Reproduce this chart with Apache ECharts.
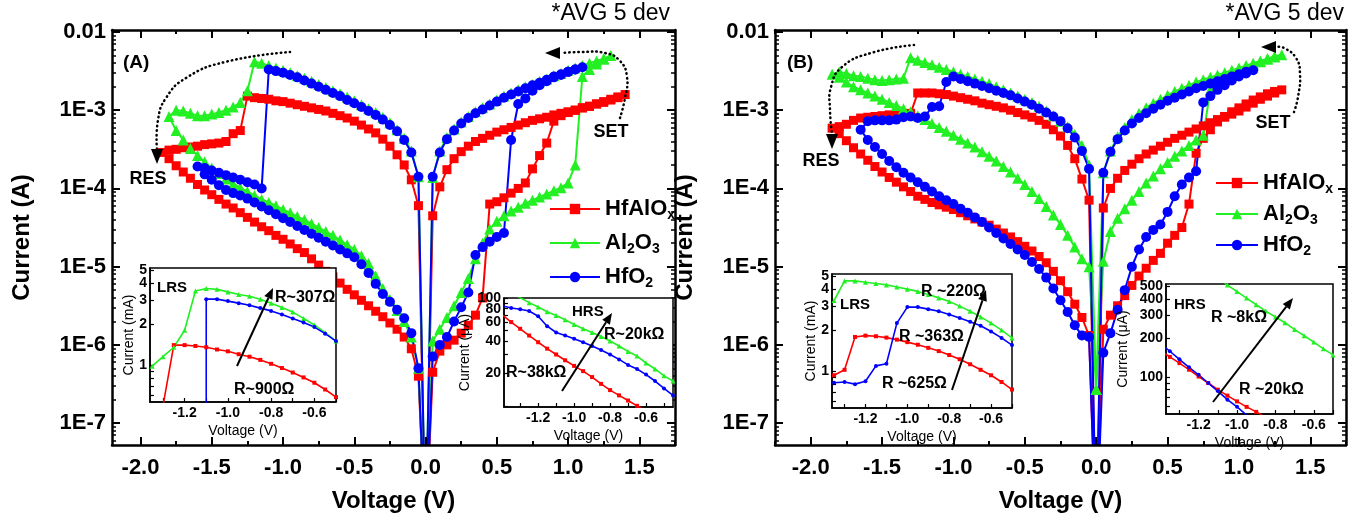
<!DOCTYPE html>
<html><head><meta charset="utf-8">
<script src="https://cdn.jsdelivr.net/npm/echarts@6/dist/echarts.min.js"></script>
<style>html,body{margin:0;padding:0;background:#fff}#c{width:1357px;height:520px}</style>
</head><body><div id="c"></div>
<script>
// ---------- DATA (voltage V, log10 of current in A) ----------
const A_HfAlOx = [[0,-8.5],[-0.05,-4.22],[-0.1,-3.89],[-0.15,-3.70],[-0.2,-3.57],[-0.25,-3.46],[-0.3,-3.37],[-0.35,-3.29],[-0.4,-3.24],[-0.45,-3.19],[-0.5,-3.14],[-0.55,-3.10],[-0.6,-3.07],[-0.65,-3.04],[-0.7,-3.01],[-0.75,-2.99],[-0.8,-2.97],[-0.85,-2.95],[-0.9,-2.93],[-0.95,-2.91],[-1.0,-2.89],[-1.05,-2.88],[-1.1,-2.86],[-1.15,-2.85],[-1.2,-2.84],[-1.25,-2.82],[-1.3,-3.26],[-1.35,-3.30],[-1.4,-3.40],[-1.45,-3.42],[-1.5,-3.43],[-1.55,-3.44],[-1.6,-3.46],[-1.65,-3.47],[-1.7,-3.48],[-1.75,-3.50],[-1.8,-3.51],[-1.85,-3.54],
[-1.8,-3.62],[-1.75,-3.71],[-1.7,-3.79],[-1.65,-3.87],[-1.6,-3.95],[-1.55,-4.02],[-1.5,-4.08],[-1.45,-4.14],[-1.4,-4.20],[-1.35,-4.25],[-1.3,-4.31],[-1.25,-4.37],[-1.2,-4.43],[-1.15,-4.49],[-1.1,-4.54],[-1.05,-4.60],[-1.0,-4.65],[-0.95,-4.71],[-0.9,-4.77],[-0.85,-4.82],[-0.8,-4.90],[-0.75,-4.98],[-0.7,-5.06],[-0.65,-5.13],[-0.6,-5.21],[-0.55,-5.29],[-0.5,-5.36],[-0.45,-5.43],[-0.4,-5.50],[-0.35,-5.57],[-0.3,-5.64],[-0.25,-5.72],[-0.2,-5.80],[-0.15,-5.90],[-0.1,-6.05],[-0.05,-6.40],[0,-8.5],
[0.05,-6.35],[0.1,-6.08],[0.15,-6.00],[0.2,-5.94],[0.25,-5.85],[0.3,-5.75],[0.35,-5.62],[0.4,-5.40],[0.45,-4.20],[0.5,-4.17],[0.55,-4.12],[0.6,-4.06],[0.65,-4.00],[0.7,-3.93],[0.75,-3.75],[0.8,-3.58],[0.85,-3.42],[0.9,-3.14],[0.95,-3.07],[1.0,-3.03],[1.05,-3.00],[1.1,-2.97],[1.15,-2.95],[1.2,-2.92],[1.25,-2.89],[1.3,-2.86],[1.35,-2.83],[1.4,-2.80],
[1.35,-2.84],[1.3,-2.87],[1.25,-2.90],[1.2,-2.92],[1.15,-2.95],[1.1,-2.97],[1.05,-3.00],[1.0,-3.02],[0.95,-3.04],[0.9,-3.06],[0.85,-3.09],[0.8,-3.11],[0.75,-3.13],[0.7,-3.16],[0.65,-3.19],[0.6,-3.22],[0.55,-3.25],[0.5,-3.28],[0.45,-3.32],[0.4,-3.36],[0.35,-3.40],[0.3,-3.46],[0.25,-3.53],[0.2,-3.62],[0.15,-3.76],[0.1,-3.98],[0.05,-4.35],[0,-8.5]];

const A_Al2O3 = [[0,-8.5],[-0.05,-3.85],[-0.1,-3.52],[-0.15,-3.36],[-0.2,-3.25],[-0.25,-3.16],[-0.3,-3.09],[-0.35,-3.03],[-0.4,-2.98],[-0.45,-2.93],[-0.5,-2.88],[-0.55,-2.83],[-0.6,-2.79],[-0.65,-2.75],[-0.7,-2.71],[-0.75,-2.67],[-0.8,-2.63],[-0.85,-2.59],[-0.9,-2.56],[-0.95,-2.52],[-1.0,-2.49],[-1.05,-2.46],[-1.1,-2.43],[-1.15,-2.40],[-1.2,-2.38],[-1.25,-2.75],[-1.3,-2.90],[-1.35,-2.96],[-1.4,-3.00],[-1.45,-3.03],[-1.5,-3.05],[-1.55,-3.07],[-1.6,-3.07],[-1.65,-3.04],[-1.7,-3.01],[-1.75,-3.00],[-1.8,-3.08],
[-1.75,-3.26],[-1.7,-3.38],[-1.65,-3.49],[-1.6,-3.58],[-1.55,-3.66],[-1.5,-3.74],[-1.45,-3.81],[-1.4,-3.88],[-1.35,-3.94],[-1.3,-3.99],[-1.25,-4.04],[-1.2,-4.09],[-1.15,-4.14],[-1.1,-4.18],[-1.05,-4.22],[-1.0,-4.27],[-0.95,-4.31],[-0.9,-4.36],[-0.85,-4.40],[-0.8,-4.45],[-0.75,-4.50],[-0.7,-4.55],[-0.65,-4.60],[-0.6,-4.66],[-0.55,-4.72],[-0.5,-4.78],[-0.45,-4.86],[-0.4,-4.96],[-0.35,-5.12],[-0.3,-5.28],[-0.25,-5.42],[-0.2,-5.56],[-0.15,-5.70],[-0.1,-5.90],[-0.05,-6.30],[0,-8.5],
[0.05,-5.95],[0.1,-5.80],[0.15,-5.65],[0.2,-5.50],[0.25,-5.33],[0.3,-5.15],[0.35,-4.90],[0.4,-4.70],[0.45,-4.52],[0.5,-4.42],[0.55,-4.35],[0.6,-4.29],[0.65,-4.24],[0.7,-4.19],[0.75,-4.15],[0.8,-4.11],[0.85,-4.07],[0.9,-4.03],[0.95,-3.99],[1.0,-3.93],[1.05,-3.70],[1.1,-2.57],[1.15,-2.48],[1.2,-2.41],[1.25,-2.35],[1.3,-2.30],
[1.25,-2.34],[1.2,-2.37],[1.15,-2.40],[1.1,-2.43],[1.05,-2.46],[1.0,-2.49],[0.95,-2.53],[0.9,-2.56],[0.85,-2.60],[0.8,-2.63],[0.75,-2.67],[0.7,-2.70],[0.65,-2.74],[0.6,-2.78],[0.55,-2.82],[0.5,-2.87],[0.45,-2.92],[0.4,-2.97],[0.35,-3.02],[0.3,-3.08],[0.25,-3.15],[0.2,-3.24],[0.15,-3.35],[0.1,-3.52],[0.05,-3.86],[0,-8.5]];

const A_HfO2 = [[0,-8.5],[-0.05,-3.85],[-0.1,-3.54],[-0.15,-3.38],[-0.2,-3.27],[-0.25,-3.19],[-0.3,-3.12],[-0.35,-3.06],[-0.4,-3.01],[-0.45,-2.96],[-0.5,-2.91],[-0.55,-2.87],[-0.6,-2.82],[-0.65,-2.78],[-0.7,-2.74],[-0.75,-2.70],[-0.8,-2.66],[-0.85,-2.62],[-0.9,-2.58],[-0.95,-2.55],[-1.0,-2.52],[-1.05,-2.50],[-1.1,-2.48],[-1.15,-4.00],[-1.2,-3.95],[-1.25,-3.92],[-1.3,-3.89],[-1.35,-3.86],[-1.4,-3.83],[-1.45,-3.80],[-1.5,-3.77],[-1.55,-3.74],[-1.6,-3.72],
[-1.55,-3.82],[-1.5,-3.89],[-1.45,-3.96],[-1.4,-4.02],[-1.35,-4.06],[-1.3,-4.09],[-1.25,-4.13],[-1.2,-4.18],[-1.15,-4.23],[-1.1,-4.28],[-1.05,-4.33],[-1.0,-4.38],[-0.95,-4.43],[-0.9,-4.48],[-0.85,-4.53],[-0.8,-4.58],[-0.75,-4.63],[-0.7,-4.68],[-0.65,-4.73],[-0.6,-4.78],[-0.55,-4.83],[-0.5,-4.88],[-0.45,-4.97],[-0.4,-5.08],[-0.35,-5.22],[-0.3,-5.35],[-0.25,-5.45],[-0.2,-5.55],[-0.15,-5.66],[-0.1,-5.85],[-0.05,-6.30],[0,-8.5],
[0.05,-6.15],[0.1,-6.00],[0.15,-5.90],[0.2,-5.70],[0.25,-5.52],[0.3,-5.33],[0.35,-4.85],[0.4,-4.75],[0.45,-4.68],[0.5,-4.62],[0.55,-4.57],[0.6,-3.38],[0.65,-2.92],[0.7,-2.85],[0.75,-2.75],[0.8,-2.68],[0.85,-2.63],[0.9,-2.58],[0.95,-2.55],[1.0,-2.51],[1.05,-2.48],[1.1,-2.45],
[1.05,-2.48],[1.0,-2.51],[0.95,-2.54],[0.9,-2.57],[0.85,-2.61],[0.8,-2.65],[0.75,-2.68],[0.7,-2.72],[0.65,-2.76],[0.6,-2.80],[0.55,-2.84],[0.5,-2.89],[0.45,-2.94],[0.4,-2.99],[0.35,-3.04],[0.3,-3.10],[0.25,-3.17],[0.2,-3.26],[0.15,-3.37],[0.1,-3.54],[0.05,-3.85],[0,-8.5]];

const B_HfAlOx = [[0,-8.5],[-0.05,-4.15],[-0.1,-3.88],[-0.15,-3.62],[-0.2,-3.45],[-0.25,-3.33],[-0.3,-3.25],[-0.35,-3.18],[-0.4,-3.13],[-0.45,-3.09],[-0.5,-3.06],[-0.55,-3.03],[-0.6,-3.00],[-0.65,-2.97],[-0.7,-2.95],[-0.75,-2.93],[-0.8,-2.91],[-0.85,-2.88],[-0.9,-2.86],[-0.95,-2.84],[-1.0,-2.82],[-1.05,-2.80],[-1.1,-2.79],[-1.15,-2.78],[-1.2,-2.78],[-1.25,-2.78],[-1.3,-3.04],[-1.35,-3.05],[-1.4,-3.06],[-1.45,-3.06],[-1.5,-3.07],[-1.55,-3.08],[-1.6,-3.09],[-1.65,-3.10],[-1.7,-3.13],[-1.75,-3.18],[-1.8,-3.21],[-1.85,-3.23],
[-1.8,-3.30],[-1.75,-3.39],[-1.7,-3.48],[-1.65,-3.56],[-1.6,-3.64],[-1.55,-3.72],[-1.5,-3.79],[-1.45,-3.86],[-1.4,-3.92],[-1.35,-3.98],[-1.3,-4.04],[-1.25,-4.10],[-1.2,-4.14],[-1.15,-4.18],[-1.1,-4.21],[-1.05,-4.24],[-1.0,-4.27],[-0.95,-4.31],[-0.9,-4.35],[-0.85,-4.39],[-0.8,-4.43],[-0.75,-4.47],[-0.7,-4.52],[-0.65,-4.57],[-0.6,-4.62],[-0.55,-4.68],[-0.5,-4.74],[-0.45,-4.80],[-0.4,-4.87],[-0.35,-4.95],[-0.3,-5.06],[-0.25,-5.18],[-0.2,-5.32],[-0.15,-5.48],[-0.1,-5.65],[-0.05,-5.88],[0,-8.5],
[0.05,-5.80],[0.1,-5.62],[0.15,-5.50],[0.2,-5.37],[0.25,-5.24],[0.3,-5.12],[0.35,-5.02],[0.4,-4.92],[0.45,-4.83],[0.5,-4.70],[0.55,-4.60],[0.6,-4.50],[0.65,-4.20],[0.7,-3.55],[0.75,-3.36],[0.8,-3.25],[0.85,-3.15],[0.9,-3.08],[0.95,-3.02],[1.0,-2.97],[1.05,-2.92],[1.1,-2.87],[1.15,-2.83],[1.2,-2.79],[1.25,-2.76],[1.3,-2.74],
[1.25,-2.78],[1.2,-2.82],[1.15,-2.86],[1.1,-2.91],[1.05,-2.96],[1.0,-3.01],[0.95,-3.05],[0.9,-3.09],[0.85,-3.12],[0.8,-3.16],[0.75,-3.20],[0.7,-3.24],[0.65,-3.28],[0.6,-3.32],[0.55,-3.36],[0.5,-3.41],[0.45,-3.46],[0.4,-3.51],[0.35,-3.56],[0.3,-3.62],[0.25,-3.69],[0.2,-3.77],[0.15,-3.87],[0.1,-4.00],[0.05,-4.25],[0,-8.5]];

const B_Al2O3 = [[0,-6.57],[-0.05,-3.70],[-0.1,-3.45],[-0.15,-3.31],[-0.2,-3.21],[-0.25,-3.14],[-0.3,-3.07],[-0.35,-3.01],[-0.4,-2.95],[-0.45,-2.90],[-0.5,-2.86],[-0.55,-2.82],[-0.6,-2.78],[-0.65,-2.74],[-0.7,-2.70],[-0.75,-2.66],[-0.8,-2.63],[-0.85,-2.60],[-0.9,-2.57],[-0.95,-2.54],[-1.0,-2.51],[-1.05,-2.48],[-1.1,-2.45],[-1.15,-2.42],[-1.2,-2.39],[-1.25,-2.36],[-1.3,-2.33],[-1.35,-2.59],[-1.4,-2.60],[-1.45,-2.61],[-1.5,-2.62],[-1.55,-2.61],[-1.6,-2.59],[-1.65,-2.57],[-1.7,-2.56],[-1.75,-2.53],[-1.8,-2.51],[-1.85,-2.54],
[-1.8,-2.58],[-1.75,-2.64],[-1.7,-2.70],[-1.65,-2.74],[-1.6,-2.78],[-1.55,-2.82],[-1.5,-2.86],[-1.45,-2.90],[-1.4,-2.94],[-1.35,-2.98],[-1.3,-3.02],[-1.25,-3.07],[-1.2,-3.12],[-1.15,-3.17],[-1.1,-3.22],[-1.05,-3.27],[-1.0,-3.32],[-0.95,-3.37],[-0.9,-3.42],[-0.85,-3.47],[-0.8,-3.53],[-0.75,-3.59],[-0.7,-3.65],[-0.65,-3.72],[-0.6,-3.79],[-0.55,-3.87],[-0.5,-3.95],[-0.45,-4.04],[-0.4,-4.13],[-0.35,-4.23],[-0.3,-4.34],[-0.25,-4.46],[-0.2,-4.60],[-0.15,-4.75],[-0.1,-4.90],[-0.05,-5.00],[0,-6.57],
[0.05,-4.93],[0.1,-4.55],[0.15,-4.38],[0.2,-4.26],[0.25,-4.15],[0.3,-4.04],[0.35,-3.93],[0.4,-3.84],[0.45,-3.75],[0.5,-3.67],[0.55,-3.59],[0.6,-3.52],[0.65,-3.45],[0.7,-3.38],[0.75,-3.32],[0.8,-2.74],[0.85,-2.66],[0.9,-2.60],[0.95,-2.55],[1.0,-2.50],[1.05,-2.46],[1.1,-2.42],[1.15,-2.38],[1.2,-2.35],[1.25,-2.32],[1.3,-2.29],
[1.25,-2.31],[1.2,-2.34],[1.15,-2.37],[1.1,-2.40],[1.05,-2.43],[1.0,-2.46],[0.95,-2.49],[0.9,-2.52],[0.85,-2.55],[0.8,-2.58],[0.75,-2.61],[0.7,-2.64],[0.65,-2.68],[0.6,-2.72],[0.55,-2.76],[0.5,-2.81],[0.45,-2.86],[0.4,-2.91],[0.35,-2.97],[0.3,-3.04],[0.25,-3.12],[0.2,-3.22],[0.15,-3.34],[0.1,-3.52],[0.05,-3.80],[0,-6.57]];

const B_HfO2 = [[0,-8.5],[-0.05,-3.75],[-0.1,-3.52],[-0.15,-3.35],[-0.2,-3.23],[-0.25,-3.14],[-0.3,-3.08],[-0.35,-3.03],[-0.4,-2.98],[-0.45,-2.93],[-0.5,-2.89],[-0.55,-2.85],[-0.6,-2.81],[-0.65,-2.78],[-0.7,-2.75],[-0.75,-2.72],[-0.8,-2.69],[-0.85,-2.66],[-0.9,-2.63],[-0.95,-2.60],[-1.0,-2.57],[-1.05,-2.64],[-1.1,-2.95],[-1.15,-2.96],[-1.2,-3.08],[-1.25,-3.10],[-1.3,-3.08],[-1.35,-3.09],[-1.4,-3.12],[-1.45,-3.13],[-1.5,-3.13],[-1.55,-3.13],[-1.6,-3.14],[-1.65,-3.25],
[-1.6,-3.38],[-1.55,-3.47],[-1.5,-3.56],[-1.45,-3.65],[-1.4,-3.73],[-1.35,-3.80],[-1.3,-3.86],[-1.25,-3.92],[-1.2,-3.98],[-1.15,-4.04],[-1.1,-4.10],[-1.05,-4.15],[-1.0,-4.20],[-0.95,-4.26],[-0.9,-4.31],[-0.85,-4.37],[-0.8,-4.43],[-0.75,-4.50],[-0.7,-4.57],[-0.65,-4.64],[-0.6,-4.71],[-0.55,-4.78],[-0.5,-4.85],[-0.45,-4.94],[-0.4,-5.03],[-0.35,-5.14],[-0.3,-5.28],[-0.25,-5.43],[-0.2,-5.58],[-0.15,-5.75],[-0.1,-5.88],[-0.05,-5.90],[0,-8.5],
[0.05,-6.10],[0.1,-5.85],[0.15,-5.55],[0.2,-5.30],[0.25,-5.00],[0.3,-4.78],[0.35,-4.62],[0.4,-4.53],[0.45,-4.46],[0.5,-4.30],[0.55,-4.10],[0.6,-3.95],[0.65,-3.86],[0.7,-3.78],[0.75,-2.90],[0.8,-2.82],[0.85,-2.74],[0.9,-2.68],[0.95,-2.62],[1.0,-2.57],[1.05,-2.53],[1.1,-2.49],
[1.05,-2.51],[1.0,-2.54],[0.95,-2.57],[0.9,-2.60],[0.85,-2.63],[0.8,-2.66],[0.75,-2.69],[0.7,-2.72],[0.65,-2.76],[0.6,-2.80],[0.55,-2.84],[0.5,-2.88],[0.45,-2.93],[0.4,-2.98],[0.35,-3.04],[0.3,-3.10],[0.25,-3.17],[0.2,-3.26],[0.15,-3.37],[0.1,-3.53],[0.05,-3.80],[0,-8.5]];

// Insets: voltage (V), current (mA) for LRS, (uA) for HRS
const A_LRS_HfAlOx = [[-1.30,0.50],[-1.25,1.40],[-1.20,1.40],[-1.15,1.38],[-1.10,1.35],[-1.05,1.30],[-1.00,1.26],[-0.95,1.20],[-0.90,1.15],[-0.85,1.09],[-0.80,1.02],[-0.75,0.95],[-0.70,0.88],[-0.65,0.81],[-0.60,0.74],[-0.55,0.66],[-0.50,0.58]];
const A_LRS_Al2O3 = [[-1.35,0.98],[-1.30,1.15],[-1.25,1.35],[-1.20,1.80],[-1.15,3.50],[-1.10,3.65],[-1.05,3.60],[-1.00,3.45],[-0.95,3.30],[-0.90,3.20],[-0.85,3.05],[-0.80,2.85],[-0.75,2.65],[-0.70,2.45],[-0.65,2.20],[-0.60,1.97],[-0.55,1.73],[-0.50,1.50]];
const A_LRS_HfO2 = [[-1.10,0.05],[-1.10,3.05],[-1.05,3.05],[-1.00,2.95],[-0.95,2.85],[-0.90,2.75],[-0.85,2.62],[-0.80,2.50],[-0.75,2.35],[-0.70,2.20],[-0.65,2.05],[-0.60,1.90],[-0.55,1.70],[-0.50,1.50]];
const A_HRS_HfAlOx = [[-1.40,70],[-1.35,60],[-1.30,52],[-1.25,45],[-1.20,39],[-1.15,34],[-1.10,30],[-1.05,26.5],[-1.00,23.5],[-0.95,21],[-0.90,18.5],[-0.85,16],[-0.80,14],[-0.75,12.5],[-0.70,11.2],[-0.65,10],[-0.60,9]];
const A_HRS_Al2O3 = [[-1.40,125],[-1.35,112],[-1.30,101],[-1.25,91],[-1.20,83],[-1.15,75],[-1.10,69],[-1.05,63],[-1.00,57],[-0.95,52],[-0.90,48],[-0.85,44],[-0.80,40],[-0.75,36],[-0.70,32],[-0.65,29],[-0.60,25],[-0.55,22],[-0.50,19],[-0.45,17]];
const A_HRS_HfO2 = [[-1.40,85],[-1.35,81],[-1.30,79],[-1.25,76],[-1.20,68],[-1.15,55],[-1.10,48],[-1.05,45],[-1.00,42],[-0.95,39],[-0.90,36],[-0.85,33],[-0.80,30],[-0.75,27],[-0.70,24],[-0.65,22],[-0.60,19.5],[-0.55,17],[-0.50,14.5],[-0.45,12.5]];
const B_LRS_HfAlOx = [[-1.35,0.93],[-1.30,1.02],[-1.25,1.78],[-1.20,1.82],[-1.15,1.80],[-1.10,1.76],[-1.05,1.70],[-1.00,1.63],[-0.95,1.56],[-0.90,1.48],[-0.85,1.40],[-0.80,1.31],[-0.75,1.22],[-0.70,1.12],[-0.65,1.02],[-0.60,0.93],[-0.55,0.83],[-0.50,0.73]];
const B_LRS_Al2O3 = [[-1.35,3.3],[-1.30,4.6],[-1.25,4.6],[-1.20,4.5],[-1.15,4.4],[-1.10,4.3],[-1.05,4.15],[-1.00,4.0],[-0.95,3.85],[-0.90,3.65],[-0.85,3.45],[-0.80,3.25],[-0.75,3.0],[-0.70,2.75],[-0.65,2.5],[-0.60,2.25],[-0.55,2.0],[-0.50,1.75]];
const B_LRS_HfO2 = [[-1.35,0.82],[-1.30,0.83],[-1.25,0.80],[-1.20,0.84],[-1.15,1.09],[-1.10,1.13],[-1.05,2.25],[-1.00,2.95],[-0.95,2.95],[-0.90,2.85],[-0.85,2.75],[-0.80,2.60],[-0.75,2.45],[-0.70,2.30],[-0.65,2.15],[-0.60,1.95],[-0.55,1.75],[-0.50,1.55]];
const B_HRS_HfAlOx = [[-1.40,160],[-1.35,143],[-1.30,128],[-1.25,114],[-1.20,101],[-1.15,90],[-1.10,80],[-1.05,72],[-1.00,65],[-0.95,59],[-0.90,54],[-0.85,49]];
const B_HRS_Al2O3 = [[-1.10,580],[-1.05,510],[-1.00,455],[-0.95,405],[-0.90,360],[-0.85,322],[-0.80,290],[-0.75,262],[-0.70,232],[-0.65,208],[-0.60,186],[-0.55,165],[-0.50,148]];
const B_HRS_HfO2 = [[-1.40,182],[-1.35,158],[-1.30,137],[-1.25,119],[-1.20,104],[-1.15,90],[-1.10,78],[-1.05,67],[-1.00,59],[-0.95,51],[-0.90,45]];

// tick labels
const X_MAJOR = [-2.0,-1.5,-1.0,-0.5,0.0,0.5,1.0,1.5];
const X_MINOR = [-2.25,-1.75,-1.25,-0.75,-0.25,0.25,0.75,1.25,1.75];
const Y_MAJOR = [1e-7,1e-6,1e-5,1e-4,1e-3,1e-2];
const INSET_X_LABELS = [-1.2,-1.0,-0.8,-0.6];
const INSET_X_TICKS = [-1.3,-1.2,-1.1,-1.0,-0.9,-0.8,-0.7,-0.6,-0.5];
const LRS_Y_LABELS = [1,2,3,4,5];
const LRS_Y_TICKS = [0.6,0.7,0.8,0.9,1,2,3,4,5];
const A_HRS_Y_LABELS = [20,40,60,80,100];
const A_HRS_Y_TICKS = [10,20,30,40,50,60,70,80,90,100];
const B_HRS_Y_LABELS = [100,200,300,400,500];
const B_HRS_Y_TICKS = [60,70,80,90,100,200,300,400,500];
const NAMES = ['HfAlOx','Al2O3','HfO2'];

// ---------- CHART ----------
const FONT = '"Liberation Sans", Arial, Helvetica, sans-serif';
const COL = {HfAlOx:'#ff0000', Al2O3:'#22f022', HfO2:'#0000ff'};
const SYM = {HfAlOx:'rect', Al2O3:'triangle', HfO2:'circle'};
const SYMSIZE = {HfAlOx:9, Al2O3:11, HfO2:10};
const YMIN = 5.25e-8, YMAX = 0.0106;
const Y_MINOR = [];
for (let n = -8; n <= -3; n++) for (let k = 2; k <= 9; k++) { const v = k * Math.pow(10, n); if (v > YMIN && v < YMAX) Y_MINOR.push(v); }

const grids = [
  {left:112, top:30, width:563, height:415},   // A
  {left:775, top:30, width:571, height:415},   // B
  {left:150, top:268, width:186, height:134, show:true, backgroundColor:'#fff', borderColor:'#000', borderWidth:1.5, z:10}, // A LRS
  {left:504, top:298, width:169, height:109, show:true, backgroundColor:'#fff', borderColor:'#000', borderWidth:1.5, z:10}, // A HRS
  {left:832, top:274, width:180, height:134, show:true, backgroundColor:'#fff', borderColor:'#000', borderWidth:1.5, z:10}, // B LRS
  {left:1166, top:284, width:167, height:130, show:true, backgroundColor:'#fff', borderColor:'#000', borderWidth:1.5, z:10} // B HRS
];

const bold = (s) => ({fontFamily:FONT, fontWeight:'bold', fontSize:s, color:'#000'});
const xAxes = [], yAxes = [];
function mainAxes(g, xmin, xmax) {
  const xm = X_MINOR.filter(v => v >= xmin && v <= xmax);
  const base = {type:'value', gridIndex:g, min:xmin, max:xmax, splitLine:{show:false}, z:3};
  xAxes.push(Object.assign({}, base, {position:'bottom', axisLine:{show:true, onZero:false, lineStyle:{color:'#000', width:2.5}},
    axisTick:{show:true, inside:true, length:8, customValues:X_MAJOR, lineStyle:{color:'#000', width:2}},
    axisLabel:{customValues:X_MAJOR, formatter:v => v.toFixed(1), margin:12, showMinLabel:true, showMaxLabel:true, ...bold(22)},
    name:'Voltage (V)', nameLocation:'middle', nameGap:44, nameTextStyle:bold(24)}));
  const main = xAxes.length - 1;
  xAxes.push(Object.assign({}, base, {position:'bottom', axisLine:{show:false, onZero:false}, axisTick:{show:true, inside:true, length:4, customValues:xm, lineStyle:{color:'#000', width:2}}, axisLabel:{show:false}}));
  xAxes.push(Object.assign({}, base, {position:'top', axisLine:{show:true, onZero:false, lineStyle:{color:'#000', width:2.5}}, axisTick:{show:true, inside:true, length:8, customValues:X_MAJOR, lineStyle:{color:'#000', width:2}}, axisLabel:{show:false}}));
  xAxes.push(Object.assign({}, base, {position:'top', axisLine:{show:false, onZero:false}, axisTick:{show:true, inside:true, length:4, customValues:xm, lineStyle:{color:'#000', width:2}}, axisLabel:{show:false}}));
  const ybase = {type:'log', logBase:10, gridIndex:g, min:YMIN, max:YMAX, splitLine:{show:false}, z:3};
  yAxes.push(Object.assign({}, ybase, {position:'left', axisLine:{show:true, onZero:false, lineStyle:{color:'#000', width:2.5}},
    axisTick:{show:true, inside:true, length:8, customValues:Y_MAJOR, lineStyle:{color:'#000', width:2}},
    axisLabel:{customValues:Y_MAJOR, margin:6, showMinLabel:true, showMaxLabel:true, formatter:v => v > 0.005 ? '0.01' : '1E' + Math.round(Math.log10(v)), ...bold(22)},
    name:'Current (A)', nameLocation:'middle', nameGap:78, nameRotate:90, nameTextStyle:bold(24)}));
  const ymain = yAxes.length - 1;
  yAxes.push(Object.assign({}, ybase, {position:'left', axisLine:{show:false, onZero:false}, axisTick:{show:true, inside:true, length:4, customValues:Y_MINOR, lineStyle:{color:'#000', width:1.5}}, axisLabel:{show:false}}));
  yAxes.push(Object.assign({}, ybase, {position:'right', axisLine:{show:true, onZero:false, lineStyle:{color:'#000', width:2.5}}, axisTick:{show:true, inside:true, length:8, customValues:Y_MAJOR, lineStyle:{color:'#000', width:2}}, axisLabel:{show:false}}));
  yAxes.push(Object.assign({}, ybase, {position:'right', axisLine:{show:false, onZero:false}, axisTick:{show:true, inside:true, length:4, customValues:Y_MINOR, lineStyle:{color:'#000', width:1.5}}, axisLabel:{show:false}}));
  return [main, ymain];
}
function insetAxes(g, xmin, xmax, ymin, ymax, ylab, ytick, yname, ynameGap) {
  xAxes.push({type:'value', gridIndex:g, min:xmin, max:xmax, position:'bottom', splitLine:{show:false}, z:11,
    axisLine:{show:true, onZero:false, lineStyle:{color:'#000', width:1.5}},
    axisTick:{show:true, inside:true, length:4, customValues:INSET_X_TICKS.filter(v => v >= xmin && v <= xmax), lineStyle:{color:'#000', width:1.2}},
    axisLabel:{customValues:INSET_X_LABELS, formatter:v => v.toFixed(1), margin:4, showMinLabel:true, showMaxLabel:true, hideOverlap:false, ...bold(14)},
    name:'Voltage (V)', nameLocation:'middle', nameGap:22, nameTextStyle:{fontFamily:FONT, fontSize:14, color:'#000'}});
  const yb = {type:'log', logBase:10, gridIndex:g, min:ymin, max:ymax, position:'left', splitLine:{show:false}, z:11};
  // axis with line, ticks and name
  yAxes.push(Object.assign({}, yb, {
    axisLine:{show:true, onZero:false, lineStyle:{color:'#000', width:1.5}},
    axisTick:{show:true, inside:true, length:4, customValues:ytick, lineStyle:{color:'#000', width:1.2}},
    axisLabel:{show:false},
    name:yname, nameLocation:'middle', nameGap:ynameGap, nameRotate:90, nameMoveOverlap:false, nameTextStyle:{fontFamily:FONT, fontSize:14, color:'#000'}}));
  const yi = yAxes.length - 1;
  // one label per companion axis, so crowded neighbouring labels are all drawn as in the original
  ylab.forEach(v => yAxes.push(Object.assign({}, yb, {
    axisLine:{show:false, onZero:false}, axisTick:{show:false},
    axisLabel:{customValues:[v], margin:3, showMinLabel:true, showMaxLabel:true, hideOverlap:false, ...bold(14)}})));
  return [xAxes.length - 1, yi];
}
const [axA, ayA] = mainAxes(0, -2.2, 1.75);
const [axB, ayB] = mainAxes(1, -2.25, 1.75);
const [ax1, ay1] = insetAxes(2, -1.36, -0.5, 0.534, 5.17, LRS_Y_LABELS, LRS_Y_TICKS, 'Current (mA)', 14);
const [ax2, ay2] = insetAxes(3, -1.39, -0.45, 9.75, 100.5, A_HRS_Y_LABELS, A_HRS_Y_TICKS, 'Current (\u03bcA)', 32);
const [ax3, ay3] = insetAxes(4, -1.36, -0.5, 0.534, 5.17, LRS_Y_LABELS, LRS_Y_TICKS, 'Current (mA)', 14);
const [ax4, ay4] = insetAxes(5, -1.37, -0.5, 52, 520, B_HRS_Y_LABELS, B_HRS_Y_TICKS, 'Current (\u03bcA)', 36);

const series = [];
function addMain(name, arr, xi, yi) {
  series.push({type:'line', name, xAxisIndex:xi, yAxisIndex:yi, data:arr.map(p => [p[0], Math.pow(10, p[1])]),
    symbol:SYM[name], symbolSize:SYMSIZE[name], showSymbol:true, showAllSymbol:true, clip:true, z:2,
    lineStyle:{color:COL[name], width:2}, itemStyle:{color:COL[name], borderWidth:0}, emphasis:{disabled:true}});
}
function addInset(name, arr, xi, yi) {
  series.push({type:'line', name, xAxisIndex:xi, yAxisIndex:yi, data:arr,
    symbol:SYM[name], symbolSize:name === 'Al2O3' ? 5 : 4, showSymbol:true, showAllSymbol:true, clip:true, z:12,
    lineStyle:{color:COL[name], width:1.6}, itemStyle:{color:COL[name], borderWidth:0}, emphasis:{disabled:true}});
}
addMain('HfAlOx', A_HfAlOx, axA, ayA); addMain('Al2O3', A_Al2O3, axA, ayA); addMain('HfO2', A_HfO2, axA, ayA);
addMain('HfAlOx', B_HfAlOx, axB, ayB); addMain('Al2O3', B_Al2O3, axB, ayB); addMain('HfO2', B_HfO2, axB, ayB);
addInset('HfAlOx', A_LRS_HfAlOx, ax1, ay1); addInset('Al2O3', A_LRS_Al2O3, ax1, ay1); addInset('HfO2', A_LRS_HfO2, ax1, ay1);
addInset('HfAlOx', A_HRS_HfAlOx, ax2, ay2); addInset('Al2O3', A_HRS_Al2O3, ax2, ay2); addInset('HfO2', A_HRS_HfO2, ax2, ay2);
addInset('HfAlOx', B_LRS_HfAlOx, ax3, ay3); addInset('Al2O3', B_LRS_Al2O3, ax3, ay3); addInset('HfO2', B_LRS_HfO2, ax3, ay3);
addInset('HfAlOx', B_HRS_HfAlOx, ax4, ay4); addInset('Al2O3', B_HRS_Al2O3, ax4, ay4); addInset('HfO2', B_HRS_HfO2, ax4, ay4);

const legendText = {fontFamily:FONT, fontSize:22, fontWeight:'bold', color:'#000', lineHeight:26,
  rich:{s:{fontFamily:FONT, fontSize:14, fontWeight:'bold', color:'#000', lineHeight:12, verticalAlign:'bottom'}}};
const legendFmt = n => ({HfAlOx:'HfAlO{s|x}', Al2O3:'Al{s|2}O{s|3}', HfO2:'HfO{s|2}'})[n];
const legends = [
  {data:NAMES, orient:'vertical', left:544, top:191, itemWidth:50, itemHeight:13, itemGap:8, selectedMode:false, formatter:legendFmt, textStyle:legendText, z:20},
  {data:NAMES, orient:'vertical', left:1210, top:165, itemWidth:42, itemHeight:13, itemGap:5, selectedMode:false, formatter:legendFmt, textStyle:legendText, z:20}
];

// ---------- annotations ----------
const G = [];
function txt(t, x, y, font, align) { G.push({type:'text', x, y, z:100, style:{text:t, font, fill:'#000', align:align || 'left', verticalAlign:'middle'}}); }
function arrow(x1, y1, x2, y2, lw, L, W) {
  const a = Math.atan2(y2 - y1, x2 - x1), c = Math.cos(a), s = Math.sin(a);
  const bx = x2 - L * c, by = y2 - L * s;
  G.push({type:'line', z:100, shape:{x1, y1, x2:bx, y2:by}, style:{stroke:'#000', lineWidth:lw}});
  G.push({type:'polygon', z:100, shape:{points:[[x2, y2], [bx + W * s, by - W * c], [bx - W * s, by + W * c]]}, style:{fill:'#000'}});
}
function dotted(pts) { G.push({type:'polyline', z:100, shape:{points:pts, smooth:0.5}, style:{stroke:'#000', lineWidth:2.5, lineDash:[0.5, 4], lineCap:'round', fill:null}}); }
function head(pts) { G.push({type:'polygon', z:100, shape:{points:pts}, style:{fill:'#000'}}); }

const F = (w, s) => (w ? 'bold ' : '') + s + 'px ' + FONT;
txt('*AVG 5 dev', 670, 14, F(false, 23), 'right');
txt('*AVG 5 dev', 1344, 14, F(false, 23), 'right');
txt('(A)', 123, 63, F(true, 19));
txt('(B)', 787, 63, F(true, 19));
txt('RES', 148, 179, F(true, 18), 'center');
txt('SET', 611, 132, F(true, 18), 'center');
txt('RES', 821, 161, F(true, 18), 'center');
txt('SET', 1273, 123, F(true, 18), 'center');
// dotted sweep arrows
dotted([[290, 52], [225, 62], [186, 78], [166, 98], [158, 120], [157, 150]]);
head([[157, 164], [151, 149], [163, 149]]);
dotted([[620, 118], [625, 98], [627, 77], [620, 61], [605, 53], [582, 52], [561, 53]]);
head([[545, 53], [560, 47], [560, 59]]);
dotted([[914, 45], [871, 53], [842, 67], [831, 87], [830, 110], [832, 134]]);
head([[832, 149], [826, 134], [838, 134]]);
dotted([[1294, 112], [1298, 97], [1300, 74], [1296, 58], [1284, 48], [1276, 47]]);
head([[1261, 47], [1276, 41], [1276, 53]]);
// inset annotations
txt('LRS', 157, 288, F(true, 15));
txt('R~307\u03a9', 275, 298, F(true, 16));
txt('R~900\u03a9', 234, 390, F(true, 16));
arrow(237, 366, 273, 288, 2, 11, 4.5);
txt('HRS', 572, 312, F(true, 15));
txt('R~20k\u03a9', 604, 335, F(true, 16));
txt('R~38k\u03a9', 506, 373, F(true, 16));
arrow(562, 391, 612, 313, 2, 11, 4.5);
txt('LRS', 840, 305, F(true, 15));
txt('R ~220\u03a9', 921, 292, F(true, 16));
txt('R ~363\u03a9', 899, 337, F(true, 16));
txt('R ~625\u03a9', 882, 384, F(true, 16));
arrow(952, 390, 986, 290, 2, 11, 4.5);
txt('HRS', 1174, 305, F(true, 15));
txt('R ~8k\u03a9', 1211, 318, F(true, 16));
txt('R ~20k\u03a9', 1239, 390, F(true, 16));
arrow(1213, 402, 1293, 298, 2, 11, 4.5);

const chart = echarts.init(document.getElementById('c'), null, {renderer:'canvas'});
chart.setOption({
  animation:false, backgroundColor:'#fff', textStyle:{fontFamily:FONT},
  grid:grids, xAxis:xAxes, yAxis:yAxes, legend:legends, series, graphic:G, tooltip:{show:false}
});
</script></body></html>
